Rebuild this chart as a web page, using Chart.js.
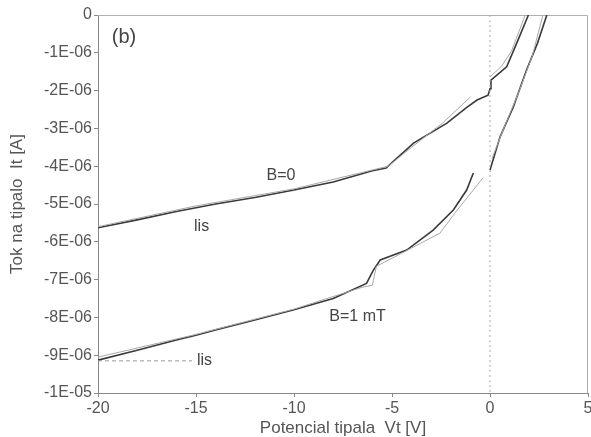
<!DOCTYPE html>
<html>
<head>
<meta charset="utf-8">
<script src="https://cdn.jsdelivr.net/npm/chart.js@4/dist/chart.umd.min.js"></script>
<style>
  html, body { margin: 0; padding: 0; background: #fff; }
  #wrap { width: 591px; height: 437px; }
</style>
</head>
<body>
<div id="wrap"><canvas id="c" width="591" height="437"></canvas></div>
<script>
// ---- data (x in V, y in A) ----
const E6 = 1e-6;
const b0MainX = [-20, -18, -16, -15, -14, -12, -10, -8, -6, -5.3, -5.1, -3.9, -2.2, -1.2, -0.66, -0.1, 0, 0.05, 0.85, 1.36, 1.96];
const b0MainY = [-5.63, -5.42, -5.2, -5.1, -5.0, -4.83, -4.63, -4.42, -4.12, -4.05, -3.95, -3.39, -2.86, -2.45, -2.25, -2.12, -1.95, -1.72, -1.37, -0.75, 0];
const b0LisX = [-20, -15, -10, -6, -5.2, -4, -2.4, -1.0, null, 0, 0.6, 1.1, 1.8];
const b0LisY = [-5.6, -5.05, -4.6, -4.1, -4.0, -3.5, -2.85, -2.17, null, -1.64, -1.35, -0.95, 0];

const b1MainX = [-20, -18, -16, -15, -14, -12, -10, -8, -6.3, -5.95, -5.6, -4.25, -2.9, -1.87, -1.19, -0.85, null, 0, 0.51, 1.19, 1.87, 2.42, 2.9];
const b1MainY = [-9.13, -8.87, -8.6, -8.47, -8.33, -8.07, -7.8, -7.5, -7.1, -6.75, -6.48, -6.22, -5.69, -5.16, -4.63, -4.18, null, -4.1, -3.23, -2.43, -1.45, -0.75, 0];
const b1LisX = [-20, -15, -10, -6.5, -6.0, -5.8, -4.5, -2.55, -1.79, -0.36, null, 0.1, 0.7, 1.5, 2.15, 2.7];
const b1LisY = [-9.05, -8.45, -7.78, -7.2, -7.15, -6.65, -6.3, -5.77, -5.24, -4.31, null, -3.8, -3.0, -2.0, -1.1, 0];

const lisMarkX = [-20, -15.2];
const lisMarkY = [-9.15, -9.15];
const zeroLineX = [0, 0];
const zeroLineY = [0, -10];

const xTicks = [-20, -15, -10, -5, 0, 5];
const yTickLabels = ['-1E-05', '-9E-06', '-8E-06', '-7E-06', '-6E-06', '-5E-06', '-4E-06', '-3E-06', '-2E-06', '-1E-06', '0'];

const notes = [
  { text: '(b)', x: -19.3, y: -0.6 * E6, size: 20, align: 'left' },
  { text: 'B=0', x: -11.4, y: -4.25 * E6, size: 16, align: 'left' },
  { text: 'lis', x: -15.1, y: -5.6 * E6, size: 16, align: 'left' },
  { text: 'B=1 mT', x: -8.2, y: -7.97 * E6, size: 16, align: 'left' },
  { text: 'lis', x: -14.95, y: -9.15 * E6, size: 16, align: 'left' }
];

function pts(xs, ys) {
  return xs.map((x, i) => (x === null ? { x: null, y: null } : { x: x, y: ys[i] * E6 }));
}

const FONT = "'Liberation Sans', Arial, sans-serif";
const TXT = '#555';

const framePlugin = {
  id: 'frame',
  beforeDatasetsDraw(chart) {
    const a = chart.chartArea, ctx = chart.ctx;
    ctx.save();
    ctx.strokeStyle = '#b0b0b0';
    ctx.lineWidth = 1;
    ctx.beginPath();
    ctx.moveTo(a.left, a.top + 0.5);
    ctx.lineTo(a.right - 0.5, a.top + 0.5);
    ctx.lineTo(a.right - 0.5, a.bottom);
    ctx.stroke();
    ctx.restore();
  }
};

const notesPlugin = {
  id: 'notes',
  afterDraw(chart) {
    const ctx = chart.ctx, xs = chart.scales.x, ys = chart.scales.y;
    ctx.save();
    ctx.fillStyle = '#444';
    ctx.textBaseline = 'middle';
    notes.forEach(n => {
      ctx.font = n.size + 'px ' + FONT;
      ctx.textAlign = n.align;
      ctx.fillText(n.text, xs.getPixelForValue(n.x), ys.getPixelForValue(n.y));
    });
    ctx.restore();
  }
};

new Chart(document.getElementById('c'), {
  type: 'scatter',
  data: {
    datasets: [
      { data: pts(zeroLineX, zeroLineY), borderColor: '#aaa', borderWidth: 1, borderDash: [2, 3] },
      { data: pts(lisMarkX, lisMarkY), borderColor: '#999', borderWidth: 1, borderDash: [4, 3] },
      { data: pts(b0LisX, b0LisY), borderColor: '#a8a8a8', borderWidth: 1 },
      { data: pts(b1LisX, b1LisY), borderColor: '#a8a8a8', borderWidth: 1 },
      { data: pts(b0MainX, b0MainY), borderColor: '#3a3a3a', borderWidth: 1.6 },
      { data: pts(b1MainX, b1MainY), borderColor: '#3a3a3a', borderWidth: 1.6 }
    ]
  },
  options: {
    responsive: false,
    animation: false,
    showLine: true,
    spanGaps: false,
    elements: { point: { radius: 0, hoverRadius: 0 }, line: { tension: 0, fill: false } },
    layout: { padding: { left: 7, top: 15, right: 0, bottom: 0 } },
    plugins: { legend: { display: false }, tooltip: { enabled: false } },
    scales: {
      x: {
        type: 'linear', min: -20, max: 5,
        afterBuildTicks(s) { s.ticks = xTicks.map(v => ({ value: v })); },
        afterFit(s) { s.height = 44; s.paddingRight = 3; },
        grid: { display: true, drawOnChartArea: false, drawTicks: true, tickLength: 4, color: '#888' },
        border: { display: true, color: '#888', width: 1 },
        ticks: { color: TXT, font: { family: FONT, size: 16 }, padding: 2, maxRotation: 0, autoSkip: false },
        title: { display: true, text: 'Potencial tipala  Vt [V]', color: TXT, font: { family: FONT, size: 17 }, padding: { top: 0, bottom: -2 } }
      },
      y: {
        type: 'linear', min: -10 * E6, max: 0,
        afterBuildTicks(s) { s.ticks = yTickLabels.map((l, i) => ({ value: (i - 10) * E6 })); },
        afterFit(s) { s.width = 91; },
        grid: { display: true, drawOnChartArea: false, drawTicks: true, tickLength: 4, color: '#888' },
        border: { display: true, color: '#888', width: 1 },
        ticks: {
          color: TXT, font: { family: FONT, size: 16 }, padding: 2, autoSkip: false,
          callback: (v, i) => yTickLabels[i]
        },
        title: { display: true, text: 'Tok na tipalo  It [A]', color: TXT, font: { family: FONT, size: 17 }, padding: 0 }
      }
    }
  },
  plugins: [framePlugin, notesPlugin]
});
</script>
</body>
</html>
